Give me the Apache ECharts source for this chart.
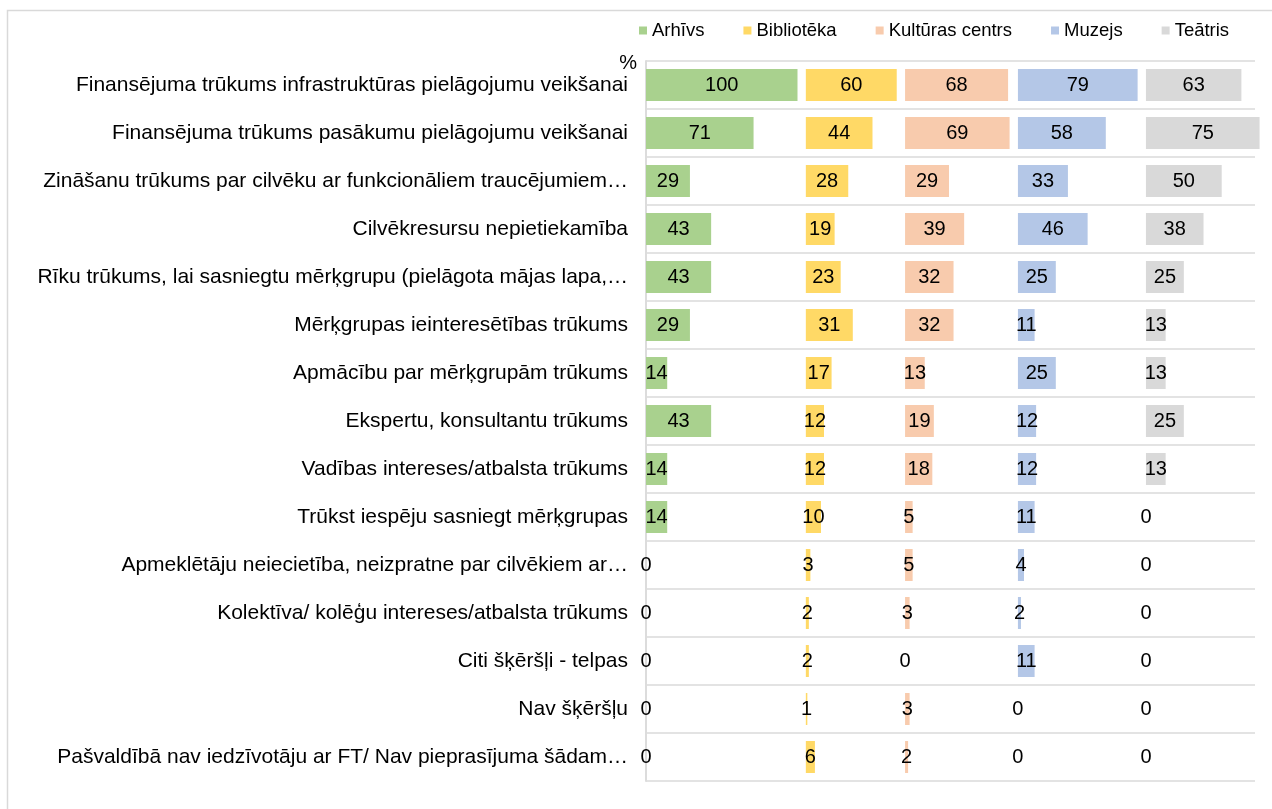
<!DOCTYPE html>
<html>
<head>
<meta charset="utf-8">
<script src="https://cdn.jsdelivr.net/npm/echarts@6/dist/echarts.min.js"></script>
<style>
  * { margin: 0; padding: 0; }
  html, body { width: 1272px; height: 809px; background: #fff; }
  #chart { width: 1272px; height: 809px; }
</style>
</head>
<body>
<div id="chart"></div>
<script>
// kategorijas (no augšas uz leju)
var categories = [
  'Finansējuma trūkums infrastruktūras pielāgojumu veikšanai',
  'Finansējuma trūkums pasākumu pielāgojumu veikšanai',
  'Zināšanu trūkums par cilvēku ar funkcionāliem traucējumiem…',
  'Cilvēkresursu nepietiekamība',
  'Rīku trūkums, lai sasniegtu mērķgrupu (pielāgota mājas lapa,…',
  'Mērķgrupas ieinteresētības trūkums',
  'Apmācību par mērķgrupām trūkums',
  'Ekspertu, konsultantu trūkums',
  'Vadības intereses/atbalsta trūkums',
  'Trūkst iespēju sasniegt mērķgrupas',
  'Apmeklētāju neiecietība, neizpratne par cilvēkiem ar…',
  'Kolektīva/ kolēģu intereses/atbalsta trūkums',
  'Citi šķēršļi - telpas',
  'Nav šķēršļu',
  'Pašvaldībā nav iedzīvotāju ar FT/ Nav pieprasījuma šādam…'
];

var seriesNames = ['Arhīvs', 'Bibliotēka', 'Kultūras centrs', 'Muzejs', 'Teātris'];

var arhivs      = [100, 71, 29, 43, 43, 29, 14, 43, 14, 14, 0, 0, 0, 0, 0];
var biblioteka  = [60, 44, 28, 19, 23, 31, 17, 12, 12, 10, 3, 2, 2, 1, 6];
var kulturas    = [68, 69, 29, 39, 32, 32, 13, 19, 18, 5, 5, 3, 0, 3, 2];
var muzejs      = [79, 58, 33, 46, 25, 11, 25, 12, 12, 11, 4, 2, 11, 0, 0];
var teatris     = [63, 75, 50, 38, 25, 13, 13, 25, 13, 0, 0, 0, 0, 0, 0];

var colors = ['#A9D18E', '#FFD966', '#F8CBAD', '#B4C7E7', '#D9D9D9'];

var allData = [arhivs, biblioteka, kulturas, muzejs, teatris];

// izkārtojums
var plotLeft = 646;
var plotRight = 1255;
var plotTop = 61;
var plotHeight = 720;
var pxPerUnit = 1.515;
var panelGap = 5.5;
var fontFamily = '"Liberation Sans", Arial, sans-serif';

var grids = [{
  left: plotLeft, top: plotTop, height: plotHeight, width: plotRight - plotLeft
}];
var xAxes = [{
  gridIndex: 0, type: 'value', min: 0, max: 100, show: false
}];
var yAxes = [{
  gridIndex: 0,
  type: 'category',
  inverse: true,
  data: categories,
  axisLine: { show: true, lineStyle: { color: '#dcdcdc', width: 2 } },
  axisTick: { show: false },
  splitLine: { show: true, lineStyle: { color: '#e3e3e3', width: 2 } },
  axisLabel: {
    margin: 18,
    fontSize: 21,
    color: '#000',
    fontFamily: fontFamily
  }
}];
var series = [];

var start = 0;
allData.forEach(function (vals, i) {
  var gi = i + 1;
  var panelMax = Math.max.apply(null, vals);
  grids.push({
    left: plotLeft + start * pxPerUnit,
    top: plotTop,
    height: plotHeight,
    width: panelMax * pxPerUnit
  });
  xAxes.push({ gridIndex: gi, type: 'value', min: 0, max: panelMax, show: false });
  yAxes.push({
    gridIndex: gi, type: 'category', inverse: true, data: categories, show: false
  });
  series.push({
    name: seriesNames[i],
    type: 'bar',
    xAxisIndex: gi,
    yAxisIndex: gi,
    barWidth: 32,
    itemStyle: { color: colors[i] },
    label: {
      show: true,
      position: 'inside',
      color: '#000',
      fontSize: 20,
      fontFamily: fontFamily
    },
    emphasis: { disabled: true },
    data: vals
  });
  start += panelMax + panelGap;
});

var option = {
  animation: false,
  textStyle: { fontFamily: fontFamily },
  color: colors,
  legend: {
    data: seriesNames,
    left: 634,
    top: 16,
    icon: 'rect',
    itemWidth: 8,
    itemHeight: 8,
    itemGap: 39,
    textStyle: { fontSize: 18.5, color: '#000', fontFamily: fontFamily }
  },
  graphic: [
    {
      type: 'rect',
      shape: { x: 7.5, y: 10.5, width: 1300, height: 900 },
      style: { fill: 'none', stroke: '#d9d9d9', lineWidth: 1.5 },
      silent: true
    },
    {
      type: 'text',
      style: {
        text: '%', x: 637, y: 63,
        align: 'right', verticalAlign: 'middle',
        fontSize: 20, fill: '#000', fontFamily: fontFamily
      }
    }
  ],
  grid: grids,
  xAxis: xAxes,
  yAxis: yAxes,
  series: series
};

var chart = echarts.init(document.getElementById('chart'));
chart.setOption(option);
</script>
</body>
</html>
